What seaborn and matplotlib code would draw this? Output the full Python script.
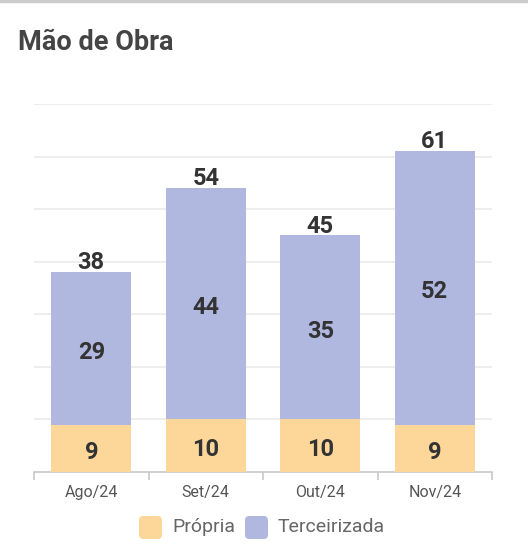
import matplotlib
matplotlib.use('Agg')
import matplotlib.pyplot as plt
import seaborn as sns
import pandas as pd
from matplotlib.patches import FancyBboxPatch
from matplotlib.lines import Line2D

# Dados do gráfico
MESES = ['Ago/24', 'Set/24', 'Out/24', 'Nov/24']
PROPRIA = [9, 10, 10, 9]
TERCEIRIZADA = [29, 44, 35, 52]

COR_PROPRIA = '#FDD79A'
COR_TERCEIRIZADA = '#B0B8E0'

sns.set_theme(style='white')
plt.rcParams['font.family'] = ['Roboto', 'DejaVu Sans']

df = pd.DataFrame({'mes': MESES, 'propria': PROPRIA, 'terceirizada': TERCEIRIZADA})
df['total'] = df['propria'] + df['terceirizada']

fig = plt.figure(figsize=(5.28, 5.58), dpi=100)
ax = fig.add_axes([34 / 528, 86 / 558, 458 / 528, 368 / 558])

# barra total (terceirizada) e base (própria) por cima
sns.barplot(data=df, x='mes', y='total', color=COR_TERCEIRIZADA, width=0.695,
            saturation=1, linewidth=0, ax=ax, zorder=2)
sns.barplot(data=df, x='mes', y='propria', color=COR_PROPRIA, width=0.695,
            saturation=1, linewidth=0, ax=ax, zorder=3)

ax.set_ylim(0, 70)
ax.set_xlim(-0.5, len(MESES) - 0.5)
ax.set_yticks(range(10, 71, 10))
ax.yaxis.grid(True, color='#EBEBEB', linewidth=1.2, zorder=0)
ax.set_axisbelow(True)
ax.tick_params(axis='y', left=False, labelleft=False)
ax.set_xlabel('')
ax.set_ylabel('')

for s in ['top', 'right', 'left']:
    ax.spines[s].set_visible(False)
ax.spines['bottom'].set_color('#C8C8C8')
ax.spines['bottom'].set_linewidth(1.2)

ax.set_xticks([i - 0.5 for i in range(len(MESES) + 1)], minor=True)
ax.tick_params(axis='x', which='minor', length=6, width=1.2, color='#C8C8C8', bottom=True)
ax.tick_params(axis='x', which='major', length=0, labelsize=11.5, labelcolor='#555555', pad=9)

# rótulos (leve deslocamento para baixo, como no original)
for i, row in df.iterrows():
    ax.text(i, row['propria'] / 2 - 0.7, str(row['propria']), ha='center', va='center',
            fontsize=17, fontweight='bold', color='#333333', zorder=5)
    ax.text(i, row['propria'] + row['terceirizada'] / 2 - 0.7, str(row['terceirizada']),
            ha='center', va='center', fontsize=17, fontweight='bold', color='#333333', zorder=5)
    ax.text(i, row['total'] - 0.4, str(row['total']), ha='center', va='bottom',
            fontsize=17, fontweight='bold', color='#333333', zorder=5)

# título
fig.text(18 / 528, 1 - 42 / 558, 'Mão de Obra', ha='left', va='center',
         fontsize=19.5, fontweight='bold', color='#444444')

# borda superior
fig.add_artist(Line2D([0, 1], [1 - 1 / 558, 1 - 1 / 558], color='#CCCCCC', linewidth=2.5))

# legenda
legenda = [(139, 'Própria', COR_PROPRIA), (245, 'Terceirizada', COR_TERCEIRIZADA)]
for x0, nome, cor in legenda:
    fig.add_artist(FancyBboxPatch((x0 / 528, 1 - 539 / 558), 23 / 528, 23 / 558,
                                  boxstyle='round,pad=0,rounding_size=0.008',
                                  facecolor=cor, edgecolor='none', transform=fig.transFigure))
    fig.text((x0 + 33) / 528, 1 - 527 / 558, nome, ha='left', va='center',
             fontsize=14, color='#666666')

fig.savefig('out.png', dpi=100)
